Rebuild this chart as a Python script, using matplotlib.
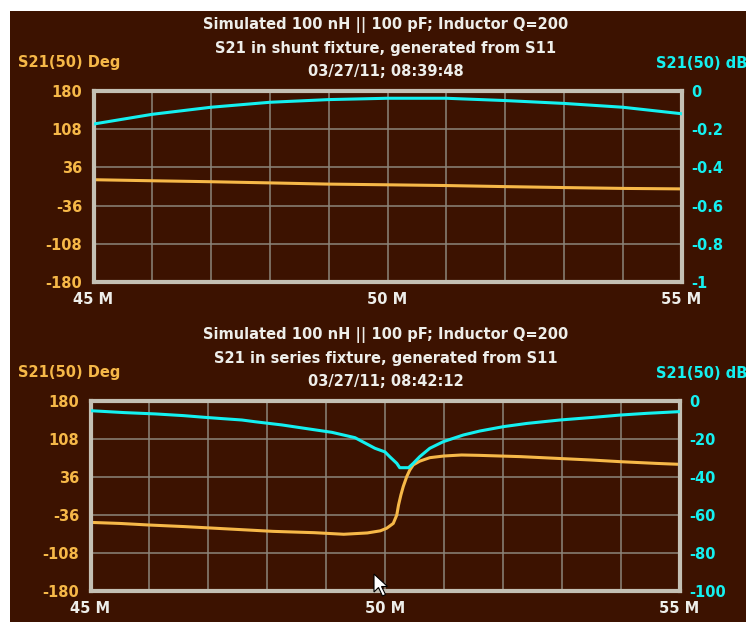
import matplotlib
matplotlib.use("Agg")
import matplotlib.pyplot as plt
from matplotlib.patches import Polygon, Rectangle

W, H = 746, 622

# top chart: shunt fixture
freq_top = [45, 46, 47, 48, 49, 50, 51, 52, 53, 54, 55]
db_top = [-0.173, -0.122, -0.085, -0.059, -0.045, -0.038, -0.038, -0.05, -0.065, -0.085, -0.119]
deg_top = [12.8, 10.8, 9.0, 6.8, 4.5, 3.2, 1.8, -0.2, -2.0, -3.6, -4.5]

# bottom chart: series fixture
freq_bot_db = [45, 45.57, 46.1, 46.58, 46.94, 47.25, 47.57, 47.79, 48.25, 48.64, 49.1, 49.49,
               49.83, 50, 50.08, 50.2, 50.25, 50.4, 50.48, 50.59, 50.76, 50.99, 51.33, 51.61,
               52.01, 52.41, 52.97, 53.54, 53.99, 54.44, 55]
db_bot = [-5.1, -6.1, -6.8, -7.7, -8.6, -9.3, -10, -10.9, -12.6, -14.4, -16.5, -19.3,
          -24.9, -26.8, -29.3, -32.8, -35.1, -35.1, -32.8, -29.3, -24.9, -21.4, -17.9, -15.8,
          -13.5, -11.8, -10, -8.6, -7.4, -6.5, -5.6]
freq_bot_deg = [45, 45.5, 46, 46.6, 47.1, 47.6, 48.1, 48.8, 49.3, 49.7, 49.92, 50.03, 50.14,
                50.2, 50.23, 50.27, 50.31, 50.37, 50.42, 50.48, 50.59, 50.76, 51, 51.3, 51.6,
                52.3, 52.9, 53.5, 54, 54.6, 55]
deg_bot = [-50, -52, -55, -58, -61, -64, -67, -69.5, -72.5, -70, -66, -61, -52,
           -36, -17, 2, 18, 37, 49, 59, 66, 72.6, 75.8, 77.7, 77,
           74.6, 71.4, 68.2, 65, 61.8, 60]

deg_ticks = [180, 108, 36, -36, -108, -180]
deg_labels = ["180", "108", "36", "-36", "-108", "-180"]
db_top_ticks = [0, -0.2, -0.4, -0.6, -0.8, -1]
db_top_labels = ["0", "-0.2", "-0.4", "-0.6", "-0.8", "-1"]
db_bot_ticks = [0, -20, -40, -60, -80, -100]
db_bot_labels = ["0", "-20", "-40", "-60", "-80", "-100"]
x_ticks = [45, 50, 55]
x_labels = ["45 M", "50 M", "55 M"]

titles_top = ["Simulated 100 nH || 100 pF; Inductor Q=200",
              "S21 in shunt fixture, generated from S11",
              "03/27/11; 08:39:48"]
titles_bot = ["Simulated 100 nH || 100 pF; Inductor Q=200",
              "S21 in series fixture, generated from S11",
              "03/27/11; 08:42:12"]

BG = "#3c1200"
ORANGE = "#f6b848"
CYAN = "#14f0f0"
FRAME = "#c4c0b4"
GRID = "#8c857a"
TXT = "#eeeeea"
FS = 10.5


def px(x, y):
    return x / W, 1 - y / H


def make_chart(fig, box, freq_db, db, freq_deg, deg, db_ticks, db_labels, titles, yoff):
    x0, y0, x1, y1 = box
    l, b = px(x0, y1)
    r, t = px(x1, y0)
    ax = fig.add_axes([l, b, r - l, t - b])
    ax.set_facecolor(BG)
    ax.set_xlim(45, 55)
    ax.set_ylim(-180, 180)
    ax.set_xticks(range(45, 56), minor=True)
    ax.set_xticks(x_ticks)
    ax.set_xticklabels(x_labels)
    ax.set_yticks(deg_ticks)
    ax.set_yticklabels(deg_labels)
    ax.grid(True, which="both", axis="x", color=GRID, lw=1.1)
    ax.grid(True, axis="y", color=GRID, lw=1.1)
    ax.tick_params(axis="x", which="both", length=0, pad=7, labelcolor=TXT, labelsize=FS)
    ax.tick_params(axis="y", length=0, pad=8, labelcolor=ORANGE, labelsize=FS)
    for lab in ax.get_xticklabels() + ax.get_yticklabels():
        lab.set_fontweight("bold")
    for s in ax.spines.values():
        s.set_color(FRAME)
        s.set_linewidth(3)
        s.set_zorder(5)
    ax.plot(freq_deg, deg, color=ORANGE, lw=2.2, zorder=3)

    ax2 = ax.twinx()
    ax2.set_ylim(db_ticks[-1], db_ticks[0])
    ax2.set_yticks(db_ticks)
    ax2.set_yticklabels(db_labels)
    ax2.tick_params(axis="y", length=0, pad=7, labelcolor=CYAN, labelsize=FS)
    for lab in ax2.get_yticklabels():
        lab.set_fontweight("bold")
    for s in ax2.spines.values():
        s.set_visible(False)
    ax2.plot(freq_db, db, color=CYAN, lw=2.2, zorder=3)

    for i, line in enumerate(titles):
        fig.text(*px(386, 25 + yoff + 23 * i), line, color=TXT, fontsize=FS,
                 fontweight="bold", ha="center", va="center")
    fig.text(*px(18, 63 + yoff), "S21(50) Deg", color=ORANGE, fontsize=FS,
             fontweight="bold", ha="left", va="center")
    fig.text(*px(656, 63 + yoff), "S21(50) dB", color=CYAN, fontsize=FS,
             fontweight="bold", ha="left", va="center")
    return ax


def main():
    fig = plt.figure(figsize=(W / 100, H / 100), dpi=100, facecolor="white")
    x, y = px(9.5, H)
    fig.patches.append(Rectangle((x, y), 1 - x, 1 - 11 / H, transform=fig.transFigure,
                                 facecolor=BG, edgecolor="none", zorder=-10))

    make_chart(fig, (93.5, 91, 681.5, 282), freq_top, db_top, freq_top, deg_top,
               db_top_ticks, db_top_labels, titles_top, 0)
    make_chart(fig, (90.5, 401, 679.5, 591), freq_bot_db, db_bot, freq_bot_deg, deg_bot,
               db_bot_ticks, db_bot_labels, titles_bot, 310)

    # mouse pointer left in the screenshot
    cursor = [(374, 574), (374, 592), (378.5, 587.5), (382.5, 596), (385.5, 594.5),
              (381.5, 586.5), (387.5, 586.5)]
    fig.patches.append(Polygon([px(a, b) for a, b in cursor], closed=True,
                               transform=fig.transFigure, facecolor="white",
                               edgecolor="black", lw=0.8, zorder=10))

    fig.savefig("out.png", dpi=100, facecolor=fig.get_facecolor())


if __name__ == "__main__":
    main()
